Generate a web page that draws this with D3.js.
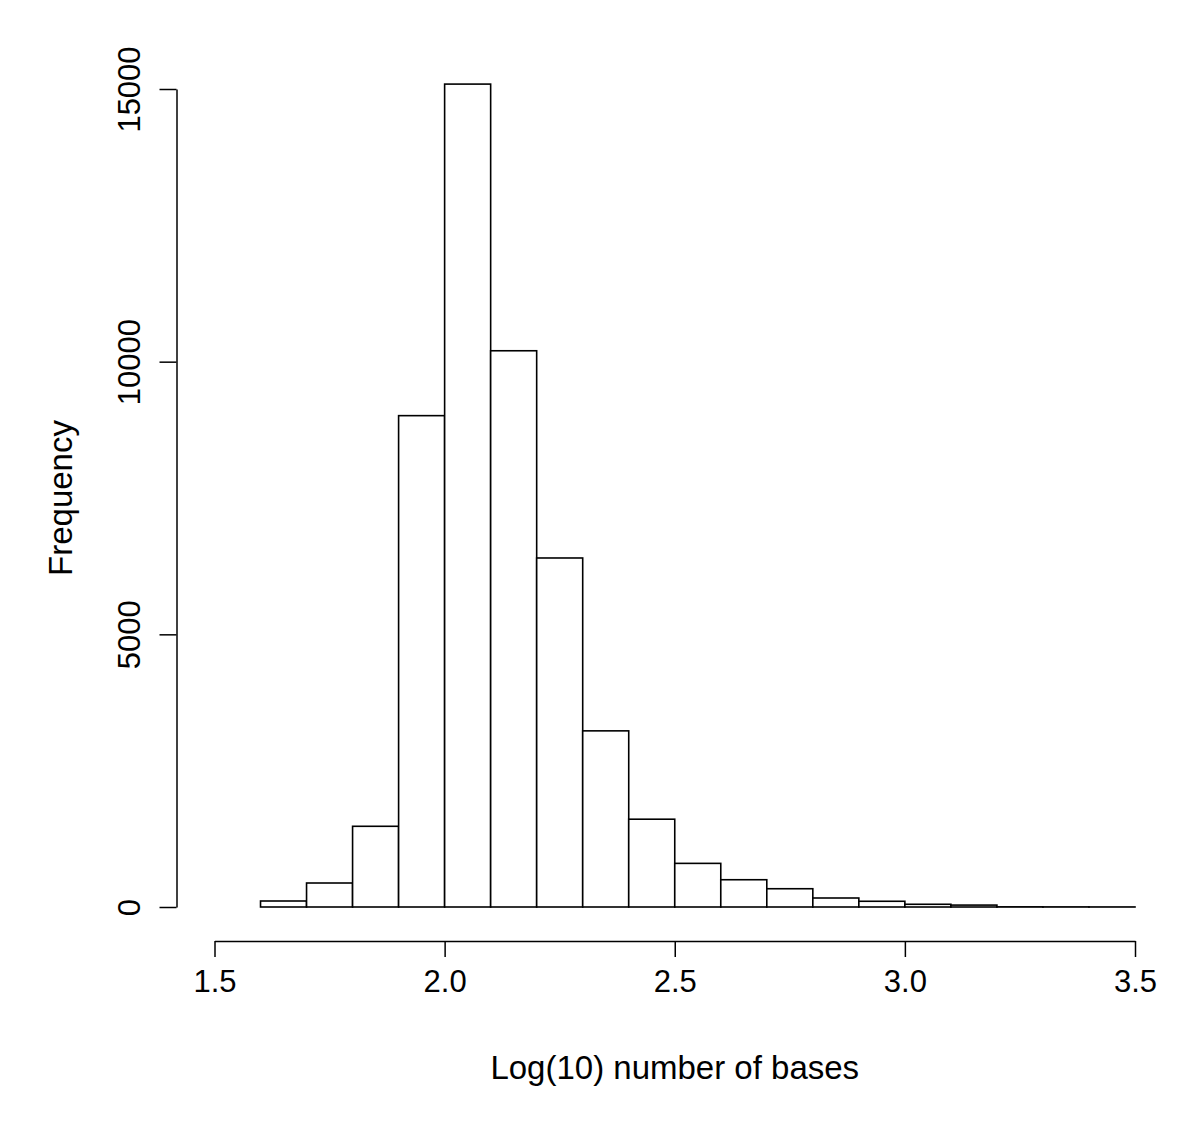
<!DOCTYPE html>
<html>
<head>
<meta charset="utf-8">
<script src="https://cdn.jsdelivr.net/npm/d3@7"></script>
<style>
  html, body { margin: 0; padding: 0; background: #fff; }
  svg { display: block; }
  text { font-family: "Liberation Sans", Arial, Helvetica, sans-serif; fill: #000; }
</style>
</head>
<body>
<script>
// Histogram bins (left edges) and counts
const binStarts = [1.6, 1.7, 1.8, 1.9, 2.0, 2.1, 2.2, 2.3, 2.4, 2.5, 2.6, 2.7, 2.8, 2.9, 3.0, 3.1, 3.2, 3.3, 3.4];
const binWidth = 0.1;
const counts = [110, 440, 1480, 9010, 15090, 10200, 6400, 3230, 1610, 800, 500, 335, 165, 105, 50, 35, 3, 2, 1];
const xTicks = [1.5, 2.0, 2.5, 3.0, 3.5];
const yTicks = [0, 5000, 10000, 15000];
const xLabel = "Log(10) number of bases";
const yLabel = "Frequency";

const W = 1200, H = 1130;
const svg = d3.select("body").append("svg").attr("width", W).attr("height", H);

const x = d3.scaleLinear().domain([1.5, 3.5]).range([214.5, 1135]);
const y = d3.scaleLinear().domain([0, 15000]).range([907, 89]);

// Bars
svg.append("g").selectAll("rect")
  .data(binStarts.map((s, i) => ({ s, c: counts[i] })))
  .join("rect")
  .attr("x", d => x(d.s))
  .attr("y", d => y(d.c))
  .attr("width", d => x(d.s + binWidth) - x(d.s))
  .attr("height", d => y(0) - y(d.c))
  .attr("fill", "#fff")
  .attr("stroke", "#000")
  .attr("stroke-width", 1.6);

// X axis
const xAxis = svg.append("g")
  .attr("transform", "translate(0,941)")
  .call(d3.axisBottom(x).tickValues(xTicks).tickFormat(d3.format(".1f")).tickSize(16).tickPadding(13).tickSizeOuter(0));
xAxis.select(".domain").attr("stroke", "#000").attr("stroke-width", 1.5);
xAxis.selectAll(".tick line").attr("stroke", "#000").attr("stroke-width", 1.5);
xAxis.selectAll(".tick text").attr("font-size", 31).attr("font-family", "Liberation Sans, Arial, sans-serif").attr("fill", "#000");

// Y axis
const yAxis = svg.append("g")
  .attr("transform", "translate(176.5,0)")
  .call(d3.axisLeft(y).tickValues(yTicks).tickFormat(d3.format("d")).tickSize(17).tickSizeOuter(0));
yAxis.select(".domain").attr("stroke", "#000").attr("stroke-width", 1.5);
yAxis.selectAll(".tick line").attr("stroke", "#000").attr("stroke-width", 1.5);
yAxis.selectAll(".tick text")
  .attr("font-size", 31)
  .attr("font-family", "Liberation Sans, Arial, sans-serif")
  .attr("fill", "#000")
  .attr("x", null).attr("dy", null)
  .attr("text-anchor", "middle")
  .attr("transform", "translate(-37,0) rotate(-90)");

// Axis titles
svg.append("text")
  .attr("x", x(2.5) + 0)
  .attr("y", 1079)
  .attr("text-anchor", "middle")
  .attr("font-size", 33)
  .text(xLabel);

svg.append("text")
  .attr("transform", `translate(72,${(y(0) + y(15000)) / 2}) rotate(-90)`)
  .attr("text-anchor", "middle")
  .attr("font-size", 33)
  .text(yLabel);
</script>
</body>
</html>
